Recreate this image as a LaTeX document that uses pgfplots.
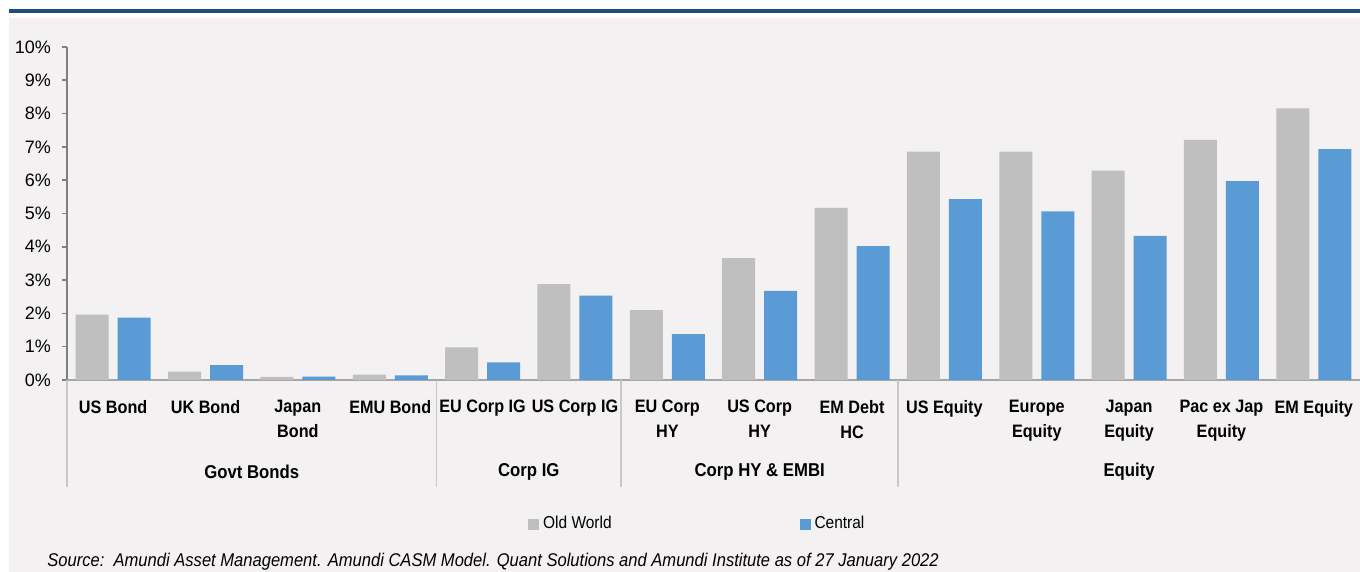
\documentclass[border=0pt]{standalone}
\usepackage{fontspec}
\setmainfont{Liberation Sans}
\newfontfamily\narrowfont[FakeStretch=0.9]{Liberation Sans}
\usepackage{pgfplots}
\pgfplotsset{compat=1.18}

\definecolor{bg}{HTML}{F3F1F2}
\definecolor{topline}{HTML}{1F4E79}
\definecolor{oldw}{HTML}{BFBFBF}
\definecolor{central}{HTML}{5B9BD5}
\definecolor{axgray}{HTML}{A6A6A6}
\definecolor{sepgray}{HTML}{C8C8C8}

\begin{document}
\begin{tikzpicture}[x=0.5pt,y=0.5pt]
\path[use as bounding box] (0,0) rectangle (1360,572);
\fill[bg] (9,0) rectangle (1360,554);
\draw[topline, line width=1.6pt] (9,561) -- (1360,561);

\begin{axis}[
    at={(33.5pt,96pt)}, anchor=south west,
    scale only axis, width=646.5pt, height=166.5pt,
    ybar=4.5pt, bar width=16.5pt,
    xmin=-0.5, xmax=13.5, ymin=0, ymax=10,
    axis lines*=left,
    x axis line style={draw=axgray, line width=0.8pt},
    y axis line style={draw=gray, line width=0.8pt},
    xtick={0,...,13}, xtick style={draw=none},
    xticklabels={{US Bond},{UK Bond},{Japan\\Bond},{EMU Bond},{EU Corp IG},{US Corp IG},{EU Corp\\HY},{US Corp\\HY},{EM Debt\\HC},{US Equity},{Europe\\Equity},{Japan\\Equity},{Pac ex Jap\\Equity},{EM Equity}},
    xticklabel style={align=center, font=\narrowfont\bfseries\fontsize{9}{12.5}\selectfont, yshift=-4pt},
    ytick={0,...,10},
    yticklabel={\pgfmathprintnumber{\tick}\%},
    yticklabel style={font=\fontsize{9}{10}\selectfont, xshift=-2pt},
    /pgf/number format/assume math mode=true,
    tick align=outside, major tick length=2.5pt,
    ytick style={draw=gray, line width=0.8pt},
    clip=false,
    legend columns=2,
    legend style={at={(0.3565,-0.433)}, anchor=west, draw=none, fill=none,
        inner sep=0pt, font=\narrowfont\fontsize{8.6}{9}\selectfont,
        nodes={inner sep=2pt},
        /tikz/every even column/.append style={column sep=92pt}},
    legend image code/.code={\fill[#1] (0pt,-2.7pt) rectangle (5.4pt,2.7pt);},
]
\addplot[fill=oldw, draw=none] coordinates {
    (0,1.96) (1,0.25) (2,0.09) (3,0.16) (4,0.98) (5,2.88) (6,2.10)
    (7,3.66) (8,5.17) (9,6.86) (10,6.86) (11,6.29) (12,7.21) (13,8.16)
};
\addlegendentry{Old World}
\addplot[fill=central, draw=none] coordinates {
    (0,1.87) (1,0.45) (2,0.10) (3,0.14) (4,0.53) (5,2.53) (6,1.38)
    (7,2.68) (8,4.02) (9,5.43) (10,5.06) (11,4.33) (12,5.97) (13,6.93)
};
\addlegendentry{Central}

% group separators
\foreach \s in {-0.5,3.5,5.5,8.5} {
    \edef\tmp{\noexpand\draw[sepgray, line width=0.8pt] (axis cs:\s,0) -- ++(0pt,-53.5pt);}
    \tmp
}
\foreach \c/\t in {1.5/Govt Bonds,4.5/Corp IG,7/Corp HY \& EMBI,11/Equity} {
    \edef\tmp{\noexpand\node[font=\noexpand\narrowfont\noexpand\bfseries\noexpand\fontsize{9.3}{10}\noexpand\selectfont] at ([yshift=-46pt]axis cs:\c,0) {\t};}
    \tmp
}
\end{axis}

\node[anchor=base west, inner sep=0pt, font=\narrowfont\itshape\fontsize{9.2}{10}\selectfont] at (47,5)
    {Source:\ \ Amundi Asset Management. Amundi CASM Model. Quant Solutions and Amundi Institute as of 27 January 2022};
\end{tikzpicture}
\end{document}
